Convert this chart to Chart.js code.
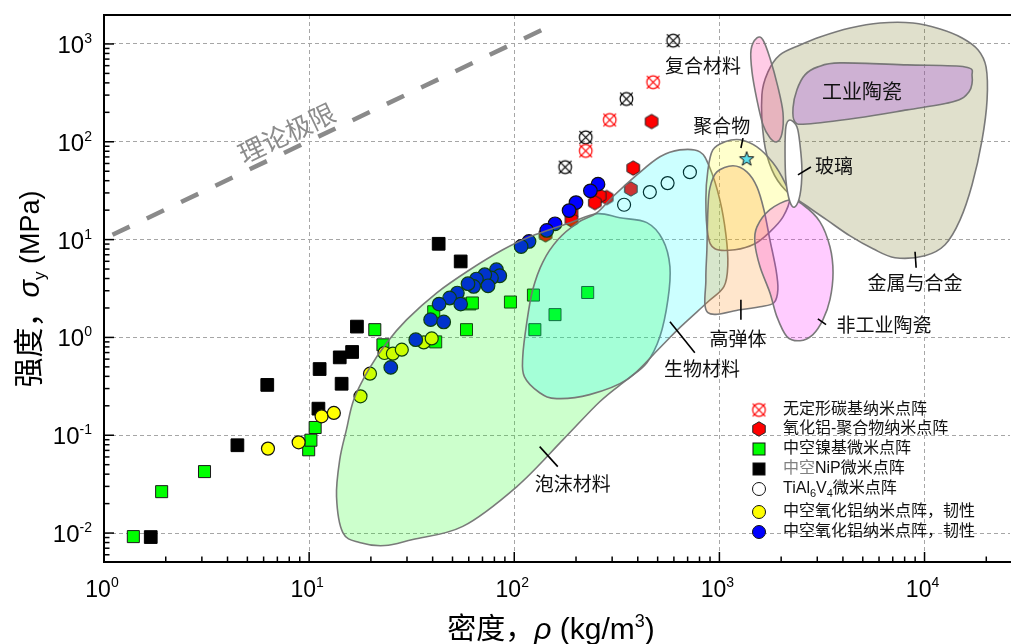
<!DOCTYPE html>
<html>
<head>
<meta charset="utf-8">
<script src="https://cdn.jsdelivr.net/npm/chart.js@4.4.1/dist/chart.umd.min.js"></script>
<style>
  html, body { margin: 0; padding: 0; background: #fff; overflow: hidden; }
  #wrap { width: 1011px; height: 644px; position: relative; }
  #chart { display: block; }
</style>
</head>
<body>
<div id="wrap"><canvas id="chart"></canvas></div>
<script>
// axis decades
const densityTicks = [1, 10, 100, 1000, 10000];
const strengthTicks = [0.01, 0.1, 1, 10, 100, 1000];

// [density kg/m3, strength MPa]
const carbonRed = [[475, 406], [292, 167], [223, 80.7]];
const carbonBlack = [[595, 1081], [352, 274], [223, 111], [177, 55]];
const aluminaPolymer = [[467, 161], [380, 53.8], [370, 33], [282, 26.9], [261, 28], [247, 23.9], [190, 18.7], [190, 15.9], [142, 11.2]];
const hollowNi = [[1.39, 0.0092], [1.91, 0.0265], [3.09, 0.0425], [9.95, 0.071], [10.2, 0.089], [10.7, 0.12], [20.9, 1.2], [22.9, 0.84], [40.5, 1.83], [41.4, 0.9], [60.8, 2.2], [62.5, 2.25], [58.5, 1.2], [95.8, 2.3], [124, 2.71], [126, 1.2], [158, 1.71], [228, 2.88]];
const hollowNiP = [[1.69, 0.0091], [4.47, 0.079], [6.25, 0.327], [11.25, 0.475], [11.1, 0.187], [14.4, 0.336], [14.1, 0.625], [16.2, 0.71], [17.1, 1.29], [42.8, 9.06], [54.8, 5.98]];
const tiAlV = [[343, 22.7], [458, 30.6], [559, 37.8], [718, 48.9]];
const aluminaYellow = [[6.3, 0.073], [8.89, 0.0846], [11.5, 0.156], [13.2, 0.169], [17.8, 0.25], [19.8, 0.426], [23.3, 0.693], [25.6, 0.682], [28.3, 0.749], [36.2, 0.889], [39.6, 0.977]];
const aluminaBlue = [[256, 36.9], [235, 31.5], [200, 23.9], [185, 19.8], [158, 14.5], [144, 12.4], [118, 9.57], [108, 8.5], [81.9, 4.92], [85, 4.27], [77.4, 4.05], [71.8, 4.37], [65.4, 3.95], [74.5, 3.37], [63.4, 3.32], [59.5, 3.54], [52.8, 2.84], [48.4, 2.53], [54.8, 2.19], [43, 2.19], [39.1, 1.52], [45.3, 1.44], [33.1, 0.948], [25, 0.494]];
const polymerStar = [[1358, 66.4]];
const theoryLimit = [[1.1, 11.2], [163, 1663]];

// material envelopes (outline vertices)
const foamRegion = [[14.6, 0.0101], [13.6, 0.0236], [14.1, 0.0563], [15.2, 0.114], [16.5, 0.231], [19.5, 0.468], [23.9, 0.883], [29.9, 1.52], [41.9, 2.86], [60.7, 4.92], [87.9, 7.87], [119, 10.7], [187, 14.9], [253, 18.4], [327, 16.7], [443, 14.9], [530, 9.95], [574, 5.28], [561, 2.43], [513, 1.02], [443, 0.552], [354, 0.37], [261, 0.22], [173, 0.0902], [103, 0.0299], [56.1, 0.0117], [32, 0.0086], [23.4, 0.00745], [17.6, 0.008]];
const bioRegion = [[252, 18.7], [302, 27.4], [396, 45.9], [513, 70.2], [641, 82.6], [803, 78.8], [898, 54.2], [1005, 25.5], [1076, 11.2], [1099, 5.52], [1052, 3.3], [869, 2.26], [641, 1.26], [513, 0.785], [354, 0.37], [233, 0.26], [161, 0.237], [133, 0.272], [112, 0.397], [110, 0.635], [115, 1.41], [123, 3.07], [138, 5.93], [163, 9.95], [204, 14.9]];
const metalRegion = [[1611, 301], [1725, 518], [1972, 773], [2472, 977], [3092, 1180], [4335, 1457], [6070, 1639], [8790, 1639], [11910, 1422], [15250, 1152], [18250, 869], [19950, 582], [20180, 268], [19070, 104], [17050, 36.3], [14900, 15.9], [12590, 8.85], [10050, 6.84], [7180, 6.53], [5610, 8.05], [4335, 10.9], [3340, 15.9], [2612, 22.7], [2089, 32.3], [1803, 51.6], [1648, 104]];
const techCeramicRegion = [[2333, 160], [2285, 222], [2388, 340], [2612, 483], [3020, 583], [3870, 640], [8220, 611], [15770, 582], [17050, 471], [16480, 324], [13770, 256], [8220, 212], [4690, 175], [2673, 152]];
const compositeRegion = [[1524, 1152], [1426, 869], [1442, 518], [1524, 268], [1631, 149], [1763, 110], [1906, 100], [2018, 121], [2042, 198], [1928, 364], [1763, 719], [1631, 1099]];
const polymerRegion = [[929, 82.6], [1064, 99.8], [1259, 105], [1524, 88.7], [1824, 60.9], [2089, 38], [2207, 26.7], [2042, 17.1], [1763, 12], [1489, 9.06], [1191, 7.87], [951, 8.05], [879, 11.2], [859, 25.5], [879, 51.6]];
const elastomerRegion = [[972, 49.2], [1164, 56.8], [1361, 49.2], [1524, 34.6], [1648, 20.2], [1763, 9.95], [1888, 4.92], [1928, 3.08], [1845, 2.26], [1578, 2.06], [1259, 1.92], [879, 1.79], [859, 3.88], [869, 7.87], [879, 20.2], [899, 33.8]];
const nonTechCeramicRegion = [[1524, 13.5], [1763, 20.2], [2207, 25.5], [2553, 22.7], [3092, 15.2], [3459, 8.44], [3581, 4.58], [3459, 2.43], [3199, 1.52], [2858, 1.07], [2472, 0.925], [2133, 1.02], [1906, 1.63], [1763, 2.86], [1578, 5.27], [1489, 9.29]];
const glassRegion = [[2207, 167], [2388, 142], [2472, 92.9], [2525, 51.6], [2472, 28.7], [2333, 21.6], [2207, 24.3], [2109, 40.8], [2089, 82.6], [2109, 142]];

const regionLabels = [
  { text: '复合材料', at: [832, 596] },
  { text: '工业陶瓷', at: [4955, 324], size: 20 },
  { text: '聚合物', at: [1028, 146], lead: [[1303, 109], [1273, 86.3]] },
  { text: '玻璃', at: [3622, 56.6], lead: [[2415, 45.9], [2793, 55.3]] },
  { text: '金属与合金', at: [8990, 3.61], lead: [[8990, 7.5], [9100, 5.15]] },
  { text: '非工业陶瓷', at: [6340, 1.35], lead: [[3020, 1.55], [3311, 1.35]] },
  { text: '高弹体', at: [1231, 0.97], lead: [[1273, 2.43], [1273, 1.52]] },
  { text: '生物材料', at: [822, 0.475], lead: [[574, 1.45], [759, 0.698]] },
  { text: '泡沫材料', at: [193, 0.032], lead: [[133, 0.0765], [163, 0.0478]] }
];

const regionLayers = [
  { data: foamRegion, fill: 'rgba(0,255,0,0.2)' },
  { data: bioRegion, fill: 'rgba(0,255,255,0.2)' },
  { data: metalRegion, fill: 'rgba(102,102,0,0.2)' },
  { data: techCeramicRegion, fill: 'rgba(164,71,224,0.3)' },
  { data: compositeRegion, fill: 'rgba(255,0,128,0.2)' },
  { data: polymerRegion, fill: 'rgba(255,255,0,0.2)' },
  { data: elastomerRegion, fill: 'rgba(255,128,0,0.2)' },
  { data: nonTechCeramicRegion, fill: 'rgba(255,0,255,0.2)' },
  { data: glassRegion, fill: '#ffffff' }
];

const FONT = '"Liberation Sans", "Noto Sans CJK SC", sans-serif';

// marker images
function makeMarker(size, draw) {
  const c = document.createElement('canvas');
  c.width = size; c.height = size;
  draw(c.getContext('2d'), size / 2);
  return c;
}
function crossMarker(color) {
  return makeMarker(17, (g, c) => {
    g.strokeStyle = color; g.lineWidth = 1.2;
    g.beginPath(); g.arc(c, c, 6.3, 0, Math.PI * 2); g.stroke();
    g.beginPath();
    g.moveTo(c - 6.3, c - 6.3); g.lineTo(c + 6.3, c + 6.3);
    g.moveTo(c + 6.3, c - 6.3); g.lineTo(c - 6.3, c + 6.3);
    g.stroke();
  });
}
const crossRedImg = crossMarker('#ff0000');
const crossBlackImg = crossMarker('#000000');
const hexImg = makeMarker(18, (g, c) => {
  g.beginPath();
  for (let k = 0; k < 6; k++) {
    const a = Math.PI / 2 + k * Math.PI / 3;
    const px = c + 7.2 * Math.cos(a), py = c + 7.2 * Math.sin(a);
    k ? g.lineTo(px, py) : g.moveTo(px, py);
  }
  g.closePath();
  g.fillStyle = '#ff0000'; g.fill();
  g.strokeStyle = '#222'; g.lineWidth = 1; g.stroke();
});
const starImg = makeMarker(18, (g, c) => {
  g.beginPath();
  for (let k = 0; k < 10; k++) {
    const r = k % 2 ? 3 : 7.5;
    const a = -Math.PI / 2 + k * Math.PI / 5;
    const px = c + r * Math.cos(a), py = c + r * Math.sin(a);
    k ? g.lineTo(px, py) : g.moveTo(px, py);
  }
  g.closePath();
  g.fillStyle = '#5ee0ec'; g.fill();
  g.strokeStyle = '#111'; g.lineWidth = 1; g.stroke();
});

function isDecade(v) {
  if (!v) return false;
  const l = Math.log10(v);
  return Math.abs(l - Math.round(l)) < 1e-6;
}

function smoothClosed(ctx, pts) {
  const n = pts.length;
  ctx.moveTo(pts[0][0], pts[0][1]);
  for (let i = 0; i < n; i++) {
    const p0 = pts[(i - 1 + n) % n], p1 = pts[i], p2 = pts[(i + 1) % n], p3 = pts[(i + 2) % n];
    ctx.bezierCurveTo(
      p1[0] + (p2[0] - p0[0]) / 6, p1[1] + (p2[1] - p0[1]) / 6,
      p2[0] - (p3[0] - p1[0]) / 6, p2[1] - (p3[1] - p1[1]) / 6,
      p2[0], p2[1]);
  }
  ctx.closePath();
}

// draws text pieces one after another, returns total width
function drawRuns(ctx, runs, x, y, align) {
  let total = 0;
  runs.forEach(r => { ctx.font = r.font; r.w = ctx.measureText(r.t).width; total += r.w; });
  let cx = align === 'center' ? x - total / 2 : (align === 'right' ? x - total : x);
  runs.forEach(r => {
    ctx.font = r.font;
    ctx.fillStyle = r.color || '#000';
    ctx.fillText(r.t, cx, y + (r.dy || 0));
    cx += r.w;
  });
  return total;
}

// envelopes go over the data marks (so marks inside look tinted), but under the star
const regionPlugin = {
  id: 'regions',
  beforeDatasetDraw(chart, args) {
    if (args.index !== 0) return;
    const { ctx, chartArea: a, scales: { x, y } } = chart;
    ctx.save();
    ctx.beginPath();
    ctx.rect(a.left, a.top, a.right - a.left, a.bottom - a.top);
    ctx.clip();
    regionLayers.forEach(r => {
      const pts = r.data.map(p => [x.getPixelForValue(p[0]), y.getPixelForValue(p[1])]);
      ctx.beginPath();
      smoothClosed(ctx, pts);
      ctx.fillStyle = r.fill;
      ctx.fill();
      ctx.lineWidth = 1.6;
      ctx.strokeStyle = 'rgba(115,115,115,0.95)';
      ctx.stroke();
    });
    ctx.restore();
  }
};

const overlayPlugin = {
  id: 'overlay',
  afterDraw(chart) {
    const { ctx, chartArea: a, scales: { x, y } } = chart;
    ctx.save();

    // region labels and leader lines
    ctx.textBaseline = 'middle';
    ctx.textAlign = 'center';
    regionLabels.forEach(l => {
      ctx.font = (l.size || 19) + 'px "Noto Sans CJK SC"';
      ctx.fillStyle = '#111';
      ctx.fillText(l.text, x.getPixelForValue(l.at[0]), y.getPixelForValue(l.at[1]));
      if (l.lead) {
        ctx.beginPath();
        ctx.moveTo(x.getPixelForValue(l.lead[0][0]), y.getPixelForValue(l.lead[0][1]));
        ctx.lineTo(x.getPixelForValue(l.lead[1][0]), y.getPixelForValue(l.lead[1][1]));
        ctx.lineWidth = 1.6; ctx.strokeStyle = '#000'; ctx.stroke();
      }
    });

    // theoretical limit text, along the dashed line
    const x0 = x.getPixelForValue(theoryLimit[0][0]), y0 = y.getPixelForValue(theoryLimit[0][1]);
    const x1 = x.getPixelForValue(theoryLimit[1][0]), y1 = y.getPixelForValue(theoryLimit[1][1]);
    ctx.save();
    ctx.translate(x.getPixelForValue(7.77), y.getPixelForValue(123));
    ctx.rotate(Math.atan2(y1 - y0, x1 - x0));
    ctx.font = '26px "Noto Sans CJK SC"';
    ctx.fillStyle = '#8c8c8c';
    ctx.fillText('理论极限', 0, 0);
    ctx.restore();

    // inner tick marks
    ctx.strokeStyle = '#000';
    ctx.lineWidth = 1.5;
    const tickMarks = (scale, horiz) => {
      scale.ticks.forEach(t => {
        const v = t.value;
        const s = v / Math.pow(10, Math.floor(Math.log10(v) + 1e-9));
        if (Math.abs(s - Math.round(s)) > 1e-6) return;
        const len = isDecade(v) ? 10 : 5.5;
        const p = scale.getPixelForValue(v);
        ctx.beginPath();
        if (horiz) { ctx.moveTo(p, a.bottom); ctx.lineTo(p, a.bottom - len); }
        else { ctx.moveTo(a.left, p); ctx.lineTo(a.left + len, p); }
        ctx.stroke();
      });
    };
    tickMarks(x, true);
    tickMarks(y, false);

    // top frame line
    ctx.lineWidth = 2;
    ctx.beginPath(); ctx.moveTo(a.left, a.top); ctx.lineTo(chart.width, a.top); ctx.stroke();

    // tick labels 10^n
    ctx.textAlign = 'left';
    ctx.textBaseline = 'alphabetic';
    densityTicks.forEach(v => {
      const e = Math.round(Math.log10(v));
      drawRuns(ctx, [
        { t: '10', font: '23px "Liberation Sans"' },
        { t: String(e), font: '14px "Liberation Sans"', dy: -10 }
      ], x.getPixelForValue(v) - 2, 597, 'center');
    });
    strengthTicks.forEach(v => {
      const e = Math.round(Math.log10(v));
      drawRuns(ctx, [
        { t: '10', font: '24px "Liberation Sans"' },
        { t: String(e), font: '14px "Liberation Sans"', dy: -10 }
      ], 92, y.getPixelForValue(v) + 9, 'right');
    });

    // axis titles
    drawRuns(ctx, [
      { t: '密度，', font: '29px "Noto Sans CJK SC"' },
      { t: 'ρ', font: 'italic 30px "Liberation Sans"' },
      { t: ' (kg/m', font: '30px "Liberation Sans"' },
      { t: '3', font: '18px "Liberation Sans"', dy: -12 },
      { t: ')', font: '30px "Liberation Sans"' }
    ], 551, 639, 'center');

    ctx.save();
    ctx.translate(39, 289);
    ctx.rotate(-Math.PI / 2);
    drawRuns(ctx, [
      { t: '强度，', font: '30px "Noto Sans CJK SC"' },
      { t: 'σ', font: 'italic 29px "Liberation Sans"' },
      { t: 'y', font: '17px "Liberation Sans"', dy: 6 },
      { t: ' (MPa)', font: '27px "Liberation Sans"' }
    ], 0, 0, 'center');
    ctx.restore();

    // legend
    const rows = [
      { sym: 'crossRed', runs: [{ t: '无定形碳基纳米点阵' }] },
      { sym: 'hex', runs: [{ t: '氧化铝-聚合物纳米点阵' }] },
      { sym: 'green', runs: [{ t: '中空镍基微米点阵' }] },
      { sym: 'black', runs: [{ t: '中空', color: '#808080' }, { t: 'NiP微米点阵' }] },
      { sym: 'open', runs: [{ t: 'TiAl' }, { t: '6', small: true, dy: 5 }, { t: 'V' }, { t: '4', small: true, dy: 5 }, { t: '微米点阵' }] },
      { sym: 'yellow', runs: [{ t: '中空氧化铝纳米点阵，韧性' }] },
      { sym: 'blue', runs: [{ t: '中空氧化铝纳米点阵，韧性' }] }
    ];
    const rowY = [410, 429, 449, 469, 489, 512, 532];
    const symX = 759, textX = 783;
    ctx.textBaseline = 'middle';
    rows.forEach((r, i) => {
      const yy = rowY[i];
      ctx.lineWidth = 1;
      ctx.strokeStyle = '#111';
      if (r.sym === 'crossRed') ctx.drawImage(crossRedImg, symX - 8.5, yy - 8.5);
      else if (r.sym === 'hex') ctx.drawImage(hexImg, symX - 9, yy - 9);
      else if (r.sym === 'green' || r.sym === 'black') {
        ctx.fillStyle = r.sym === 'green' ? '#00ff00' : '#000';
        ctx.fillRect(symX - 6, yy - 6, 12, 12);
        ctx.strokeRect(symX - 6, yy - 6, 12, 12);
      } else {
        ctx.beginPath(); ctx.arc(symX, yy, 6.5, 0, Math.PI * 2);
        ctx.fillStyle = r.sym === 'yellow' ? '#ffff00' : (r.sym === 'blue' ? '#0000ff' : '#fff');
        ctx.fill(); ctx.stroke();
      }
      drawRuns(ctx, r.runs.map(run => ({
        t: run.t, color: run.color || '#111', dy: run.dy || 0,
        font: (run.small ? '11px ' : '16px ') + FONT
      })), textX, yy, 'left');
    });

    ctx.restore();
  }
};

const gridColor = c => (c.tick && isDecade(c.tick.value)) ? '#a6a6a6' : 'rgba(0,0,0,0)';

new Chart(document.getElementById('chart'), {
  type: 'scatter',
  data: {
    datasets: [
      { label: '聚合物', data: polymerStar, pointStyle: starImg, pointRadius: 6 },
      { label: '无定形碳基纳米点阵', data: carbonRed, pointStyle: crossRedImg, pointRadius: 6 },
      { label: '无定形碳基纳米点阵 (黑)', data: carbonBlack, pointStyle: crossBlackImg, pointRadius: 6 },
      { label: 'TiAl6V4微米点阵', data: tiAlV, pointStyle: 'circle', pointRadius: 6.5, backgroundColor: '#ffffff', borderColor: '#000', borderWidth: 1.2 },
      { label: '中空氧化铝纳米点阵，韧性 (蓝)', data: aluminaBlue, pointStyle: 'circle', pointRadius: 6.8, backgroundColor: '#0000ff', borderColor: '#111', borderWidth: 1.2 },
      { label: '中空氧化铝纳米点阵，韧性 (黄)', data: aluminaYellow, pointStyle: 'circle', pointRadius: 6.5, backgroundColor: '#ffff00', borderColor: '#111', borderWidth: 1.2 },
      { label: '氧化铝-聚合物纳米点阵', data: aluminaPolymer, pointStyle: hexImg, pointRadius: 6 },
      { label: '中空镍基微米点阵', data: hollowNi, pointStyle: 'rect', pointRadius: 8.5, backgroundColor: '#00ff00', borderColor: '#1a1a1a', borderWidth: 1 },
      { label: '中空NiP微米点阵', data: hollowNiP, pointStyle: 'rect', pointRadius: 9, backgroundColor: '#000', borderColor: '#000', borderWidth: 1 },
      { label: '理论极限', data: theoryLimit, showLine: true, pointRadius: 0, borderColor: '#8a8a8a', borderWidth: 4.5, borderDash: [19, 19] }
    ]
  },
  options: {
    responsive: true,
    maintainAspectRatio: false,
    animation: false,
    devicePixelRatio: 1,
    layout: { autoPadding: false, padding: { left: 104, right: 1, top: 15, bottom: 82 } },
    plugins: { legend: { display: false }, tooltip: { enabled: false } },
    scales: {
      x: {
        type: 'logarithmic', min: 1, max: 26100,
        ticks: { display: false },
        grid: { drawTicks: false, color: gridColor, lineWidth: 1 },
        border: { display: true, color: '#000', width: 2, dash: [4, 3] }
      },
      y: {
        type: 'logarithmic', min: 0.00506, max: 1977,
        ticks: { display: false },
        grid: { drawTicks: false, color: gridColor, lineWidth: 1 },
        border: { display: true, color: '#000', width: 2, dash: [4, 3] }
      }
    }
  },
  plugins: [regionPlugin, overlayPlugin]
});
</script>
</body>
</html>
